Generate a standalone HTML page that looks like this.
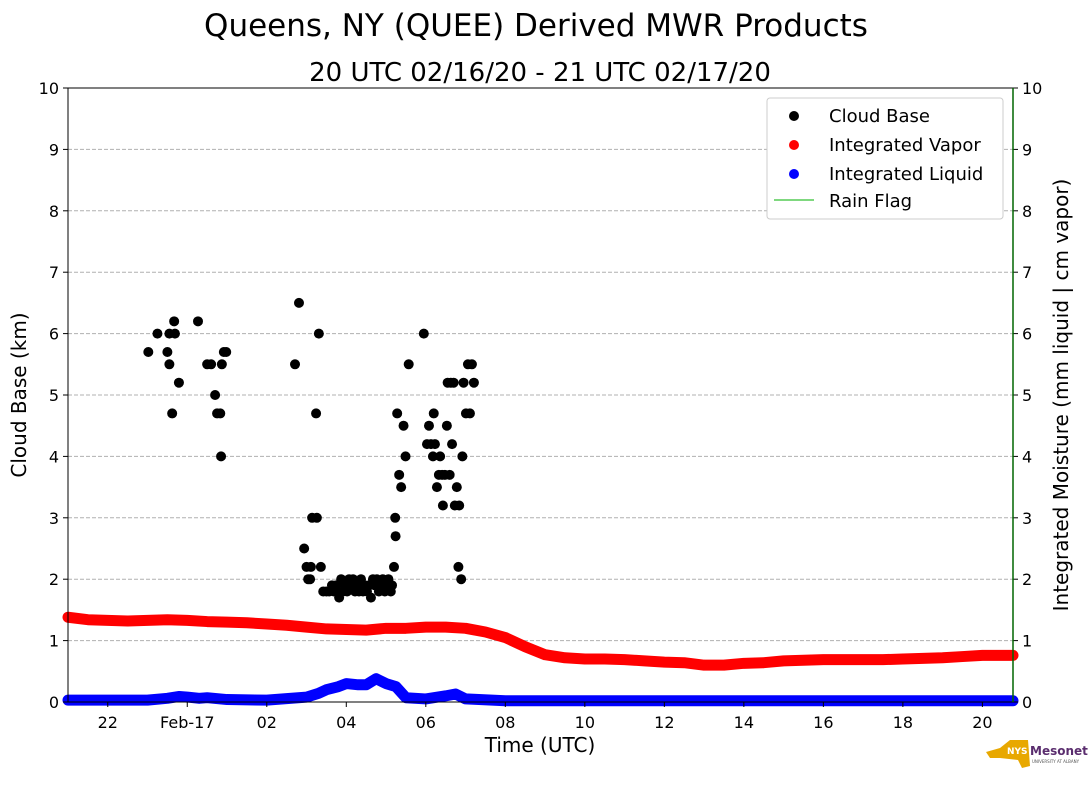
<!DOCTYPE html>
<html><head><meta charset="utf-8"><style>
body{margin:0;background:#fff;font-family:"Liberation Sans","DejaVu Sans",sans-serif;}
svg text{font-family:"DejaVu Sans","Liberation Sans",sans-serif;}
</style></head><body>
<svg id="c" width="1089" height="804" viewBox="0 0 1089 804" xmlns="http://www.w3.org/2000/svg">
<text x="536" y="36" font-size="31" text-anchor="middle">Queens, NY (QUEE) Derived MWR Products</text>
<text x="540" y="81" font-size="26" text-anchor="middle">20 UTC 02/16/20 - 21 UTC 02/17/20</text>
<g id="grid"></g><g id="series"></g><g id="axes"></g>
<text transform="translate(26,395) rotate(-90)" font-size="20" text-anchor="middle">Cloud Base (km)</text>
<text transform="translate(1068,395) rotate(-90)" font-size="20" text-anchor="middle">Integrated Moisture (mm liquid | cm vapor)</text>
<text x="540" y="752" font-size="20" text-anchor="middle">Time (UTC)</text>
<g>
<rect x="767" y="98" width="236" height="121" fill="#fff" stroke="#ccc" rx="3"/>
<circle cx="794" cy="116" r="5" fill="#000"/><text x="829" y="122" font-size="18">Cloud Base</text>
<circle cx="794" cy="145" r="5" fill="red"/><text x="829" y="151" font-size="18">Integrated Vapor</text>
<circle cx="794" cy="174" r="5" fill="blue"/><text x="829" y="180" font-size="18">Integrated Liquid</text>
<line x1="774" y1="200" x2="814" y2="200" stroke="#5c5" stroke-width="1.5"/><text x="829" y="207" font-size="18">Rain Flag</text>
</g>
<g>
<path d="M986 752 L1000 748 L1010 740 L1028 740 L1030 766 L1022 768 L1018 760 L1000 758 L990 758 Z" fill="#e8a800"/>
<text x="1007" y="754" font-size="9" font-weight="bold" fill="#fff">NYS</text>
<text x="1030" y="755" font-size="12" font-weight="bold" fill="#5a2d6e">Mesonet</text>
<text x="1032" y="763" font-size="4" fill="#555">UNIVERSITY AT ALBANY</text>
</g>
</svg>
<script>
const xTickLabels=["22","Feb-17","02","04","06","08","10","12","14","16","18","20"];
const xTickHours=[1,3,5,7,9,11,13,15,17,19,21,23];
const yTicks=[0,1,2,3,4,5,6,7,8,9,10];
// hours since 21 UTC 02/16
const cloudHours=[2.02,2.25,2.5,2.55,2.55,2.62,2.67,2.69,2.79,3.27,3.5,3.6,3.7,3.75,3.83,3.85,3.87,3.92,3.98,5.71,5.81,5.94,6.0,6.04,6.09,6.11,6.14,6.24,6.26,6.31,6.36,6.42,6.5,6.57,6.64,6.69,6.74,6.77,6.82,6.87,6.92,6.97,7.02,7.07,7.12,7.17,7.22,7.27,7.32,7.37,7.42,7.47,7.52,7.57,7.62,7.67,7.72,7.77,7.82,7.87,7.92,7.97,8.02,8.06,8.12,8.15,8.2,8.23,8.24,8.28,8.33,8.38,8.44,8.49,8.57,8.95,9.03,9.08,9.13,9.18,9.2,9.23,9.28,9.33,9.36,9.41,9.43,9.48,9.53,9.55,9.6,9.63,9.66,9.7,9.73,9.78,9.82,9.84,9.89,9.92,9.95,10.01,10.06,10.11,10.16,10.21];
const cloudKm=[5.7,6.0,5.7,5.5,6.0,4.7,6.2,6.0,5.2,6.2,5.5,5.5,5.0,4.7,4.7,4.0,5.5,5.7,5.7,5.5,6.5,2.5,2.2,2.0,2.0,2.2,3.0,4.7,3.0,6.0,2.2,1.8,1.8,1.8,1.9,1.8,1.9,1.8,1.7,2.0,1.8,1.9,1.8,2.0,1.9,2.0,1.8,1.9,1.8,2.0,1.8,1.9,1.8,1.9,1.7,2.0,1.9,2.0,1.8,1.9,2.0,1.8,1.9,2.0,1.8,1.9,2.2,3.0,2.7,4.7,3.7,3.5,4.5,4.0,5.5,6.0,4.2,4.5,4.2,4.0,4.7,4.2,3.5,3.7,4.0,3.7,3.2,3.7,4.5,5.2,3.7,5.2,4.2,5.2,3.2,3.5,2.2,3.2,2.0,4.0,5.2,4.7,5.5,4.7,5.5,5.2,5.5,4.7,5.5];
const vaporHours=[0,0.5,1,1.5,2,2.5,3,3.5,4,4.5,5,5.5,6,6.5,7,7.5,8,8.5,9,9.5,10,10.5,11,11.5,12,12.5,13,13.5,14,14.5,15,15.5,16,16.5,17,17.5,18,18.5,19,19.5,20,20.5,21,21.5,22,22.5,23,23.5,23.77];
const vaporVals=[1.38,1.34,1.33,1.32,1.33,1.34,1.33,1.31,1.3,1.29,1.27,1.25,1.22,1.19,1.18,1.17,1.2,1.2,1.22,1.22,1.2,1.14,1.05,0.9,0.77,0.72,0.7,0.7,0.69,0.67,0.65,0.64,0.6,0.6,0.63,0.64,0.67,0.68,0.69,0.69,0.69,0.69,0.7,0.71,0.72,0.74,0.76,0.76,0.76];
const liquidHours=[0,2,2.5,2.8,3,3.3,3.5,4,5,6,6.3,6.5,6.8,7,7.3,7.5,7.75,8,8.25,8.5,9,9.5,9.75,10,11,13,15,17,19,21,23.77];
const liquidVals=[0.03,0.03,0.06,0.09,0.08,0.06,0.07,0.04,0.03,0.08,0.14,0.2,0.25,0.3,0.28,0.28,0.38,0.3,0.25,0.07,0.05,0.1,0.13,0.05,0.02,0.02,0.02,0.02,0.02,0.02,0.02];
const L=68,R=1013,T=88,B=702,HMAX=23.77;
const xs=h=>L+(R-L)*h/HMAX, ys=v=>B-(B-T)*v/10;
const NS="http://www.w3.org/2000/svg";
function mk(tag,at,parent){const e=document.createElementNS(NS,tag);for(const k in at)e.setAttribute(k,at[k]);parent.appendChild(e);return e;}
const grid=document.getElementById('grid'),ser=document.getElementById('series'),ax=document.getElementById('axes');
yTicks.forEach(v=>{
 if(v>0&&v<10){const g=mk('line',{x1:L,x2:R,y1:ys(v),y2:ys(v),stroke:'#b0b0b0','stroke-dasharray':'4,2'},grid);
 
 }
 mk('line',{x1:L-5,x2:L,y1:ys(v),y2:ys(v),stroke:'#000'},ax);
 mk('line',{x1:R,x2:R+5,y1:ys(v),y2:ys(v),stroke:'#000'},ax);
 const t1=mk('text',{x:L-9,y:ys(v)+6,'font-size':16,'text-anchor':'end'},ax);t1.textContent=v;
 
 
 const t2=mk('text',{x:R+9,y:ys(v)+6,'font-size':16},ax);t2.textContent=v;
 
 
});
xTickHours.forEach((h,i)=>{
 mk('line',{x1:xs(h),x2:xs(h),y1:B,y2:B+5,stroke:'#000'},ax);
 const t=mk('text',{x:xs(h),y:B+26,'font-size':16,'text-anchor':'middle'},ax);t.textContent=xTickLabels[i];
 
 
});
mk('rect',{x:L,y:T,width:R-L,height:B-T,fill:'none',stroke:'#000'},ax);
mk('line',{x1:R,x2:R,y1:T,y2:B,stroke:'#060','stroke-width':1.5},ax);
function series(hs,vs,color,name){
 const g=mk('g',{},ser);
 
 
 mk('polyline',{points:hs.map((h,i)=>xs(h)+','+ys(vs[i])).join(' '),fill:'none',stroke:color,'stroke-width':11,'stroke-linecap':'round','stroke-linejoin':'round'},g);
}
series(vaporHours,vaporVals,'red','integrated-vapor-series');
series(liquidHours,liquidVals,'blue','integrated-liquid-series');
const cg=mk('g',{},ser);


cloudHours.forEach((h,i)=>{
 const c=mk('circle',{cx:xs(h),cy:ys(cloudKm[i]),r:5,fill:'#000'},cg);
 
 
});
</script>
</body></html>
